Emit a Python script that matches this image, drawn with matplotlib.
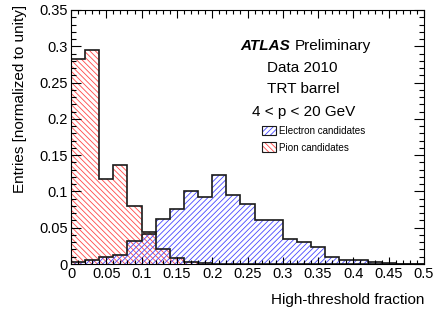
import numpy as np
import matplotlib
matplotlib.use("Agg")
import matplotlib.pyplot as plt
from matplotlib.patches import Patch
from matplotlib.ticker import MultipleLocator

plt.rcParams["font.family"] = ["Liberation Sans", "DejaVu Sans"]

# 25 bins of width 0.02 from 0 to 0.5
bin_edges = np.linspace(0.0, 0.5, 26)

electron = [0.003, 0.0055, 0.009, 0.0124, 0.032, 0.042, 0.062, 0.0758, 0.1006, 0.0928,
            0.1226, 0.0951, 0.0822, 0.0606, 0.0606, 0.034, 0.031, 0.024, 0.010, 0.0055,
            0.0062, 0.0026, 0.0008, 0.0005, 0.0004]
pion = [0.282, 0.295, 0.117, 0.137, 0.080, 0.0445, 0.020, 0.0078, 0.003, 0.001,
        0.0006, 0.0004, 0.0003, 0.0002, 0.0002, 0.0001, 0.0001, 0.0, 0.0, 0.0,
        0.0, 0.0, 0.0, 0.0, 0.0]

BLUE = "#4848ff"
RED = "#ff4848"
OUTLINE = "#1a1a1a"
HATCH_E = "//////"
HATCH_P = "\\\\\\\\\\\\"

plt.rcParams["hatch.linewidth"] = 0.6

fig = plt.figure(figsize=(4.35, 3.11), dpi=100)
ax = fig.add_axes([71 / 435, 1 - 264 / 311, 353 / 435, 254 / 311])

# hatched fills
ax.stairs(pion, bin_edges, fill=True, facecolor="none", edgecolor=RED,
          hatch=HATCH_P, linewidth=0)
ax.stairs(electron, bin_edges, fill=True, facecolor="none", edgecolor=BLUE,
          hatch=HATCH_E, linewidth=0)
# outlines
ax.stairs(pion, bin_edges, color=OUTLINE, linewidth=1.2)
ax.stairs(electron, bin_edges, color=OUTLINE, linewidth=1.2)

ax.set_xlim(0, 0.5)
ax.set_ylim(0, 0.35)
ax.xaxis.set_major_locator(MultipleLocator(0.05))
ax.xaxis.set_minor_locator(MultipleLocator(0.01))
ax.yaxis.set_major_locator(MultipleLocator(0.05))
ax.yaxis.set_minor_locator(MultipleLocator(0.01))
ax.xaxis.set_major_formatter(plt.FuncFormatter(lambda v, p: f"{v:g}"))
ax.yaxis.set_major_formatter(plt.FuncFormatter(lambda v, p: f"{v:g}"))

ax.tick_params(which="both", direction="in", top=True, right=True, width=0.8,
               labelsize=10.5, pad=2.5)
ax.tick_params(axis="x", which="major", length=5.4)
ax.tick_params(axis="x", which="minor", length=2.7)
ax.tick_params(axis="y", which="major", length=7.2)
ax.tick_params(axis="y", which="minor", length=3.6)
for s in ax.spines.values():
    s.set_linewidth(0.8)

fig.text(20.5 / 435, 1 - 5 / 311, "Entries [normalized to unity]", rotation=90,
         ha="center", va="top", fontsize=11)
fig.text(424 / 435, 1 - 300 / 311, "High-threshold fraction", ha="right",
         va="center", fontsize=11)

ax.text(0.620, 0.859, "ATLAS", transform=ax.transAxes, ha="right", va="center",
        fontsize=11, fontweight="bold", fontstyle="italic")
ax.text(0.635, 0.859, "Preliminary", transform=ax.transAxes, ha="left", va="center",
        fontsize=11)
ax.text(0.656, 0.773, "Data 2010", transform=ax.transAxes, ha="center", va="center",
        fontsize=11)
ax.text(0.659, 0.688, "TRT barrel", transform=ax.transAxes, ha="center", va="center",
        fontsize=11)
ax.text(0.659, 0.600, "4 < p < 20 GeV", transform=ax.transAxes, ha="center",
        va="center", fontsize=11)

handles = [
    (Patch(facecolor="white", edgecolor=BLUE, hatch=HATCH_E, linewidth=0),
     Patch(facecolor="none", edgecolor=OUTLINE, linewidth=0.8)),
    (Patch(facecolor="white", edgecolor=RED, hatch=HATCH_P, linewidth=0),
     Patch(facecolor="none", edgecolor=OUTLINE, linewidth=0.8)),
]
ax.legend(handles, ["Electron candidates", "Pion candidates"], loc="upper left",
          bbox_to_anchor=(0.540, 0.545), frameon=False, fontsize=7.1,
          borderpad=0, borderaxespad=0, handlelength=1.5, handleheight=1.17,
          handletextpad=0.3, labelspacing=0.65)

fig.savefig("out.png", dpi=100)
